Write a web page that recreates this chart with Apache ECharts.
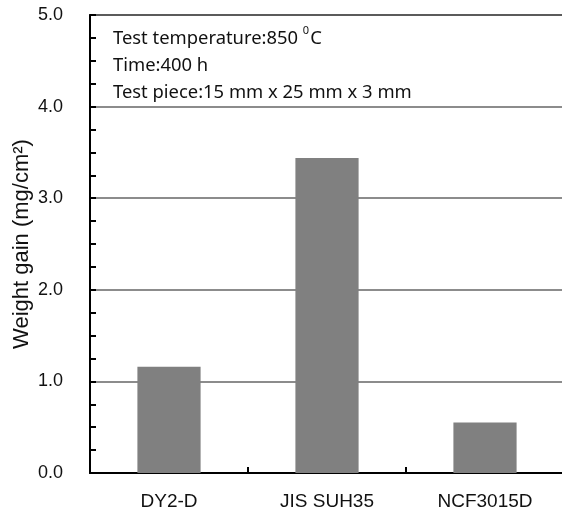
<!DOCTYPE html>
<html>
<head>
<meta charset="utf-8">
<script src="https://cdn.jsdelivr.net/npm/echarts@6/dist/echarts.min.js"></script>
<style>
  html, body { margin: 0; padding: 0; background: #fff; }
  #chart { width: 562px; height: 512px; }
</style>
</head>
<body>
<div id="chart"></div>
<script>
// Oxidation weight gain after 400 h at 850 °C
const categories = ['DY2-D', 'JIS SUH35', 'NCF3015D'];
const weightGain = [1.16, 3.44, 0.55];
const yTicks = [0, 1, 2, 3, 4, 5];

const chart = echarts.init(document.getElementById('chart'));
const font = 'Liberation Sans, Arial, sans-serif';
const noteFont = 'Noto Sans, sans-serif';

chart.setOption({
  animation: false,
  backgroundColor: '#fff',
  title: {
    left: 108,
    top: 20,
    itemGap: 0,
    text: '{t|Test temperature:850 }{s|0}{t|C}\n{t|Time:400 h}\n{t|Test piece:15 mm x 25 mm x 3 mm}',
    textStyle: {
      fontWeight: 'normal',
      lineHeight: 27,
      rich: {
        t: { fontSize: 18.4, fontFamily: noteFont, fontWeight: 'normal', color: '#111', lineHeight: 27 },
        s: { fontSize: 11, fontFamily: noteFont, fontWeight: 'normal', color: '#111', verticalAlign: 'top', lineHeight: 27, padding: [0, 1, 8, 0] }
      }
    }
  },
  grid: {
    left: 90, right: -2, top: 15, bottom: 39,
    outerBoundsMode: 'none',
    containLabel: false,
    show: true, borderColor: '#000', borderWidth: 1.5, backgroundColor: 'transparent'
  },
  xAxis: {
    type: 'category',
    data: categories,
    axisLine: { lineStyle: { color: '#000', width: 2 } },
    axisTick: { show: true, inside: true, length: 6, lineStyle: { color: '#000', width: 2 } },
    axisLabel: { color: '#111', fontSize: 19, fontFamily: font, margin: 19 }
  },
  yAxis: {
    type: 'value',
    min: yTicks[0],
    max: yTicks[yTicks.length - 1],
    interval: 1,
    name: 'Weight gain (mg/cm²)',
    nameLocation: 'middle',
    nameGap: 57,
    nameMoveOverlap: false,
    nameTextStyle: { color: '#111', fontSize: 22, fontFamily: font },
    axisLine: { show: true, lineStyle: { color: '#000', width: 2 } },
    axisTick: { show: true, inside: true, length: 6, lineStyle: { color: '#000', width: 2 } },
    minorTick: { show: true, splitNumber: 4, length: 6, lineStyle: { color: '#000', width: 2 } },
    axisLabel: {
      color: '#111', fontSize: 18, fontFamily: font, margin: 27,
      formatter: v => v.toFixed(1)
    },
    splitLine: { show: true, lineStyle: { color: '#666', width: 1.5 } }
  },
  series: [{
    type: 'bar',
    data: weightGain,
    barWidth: '40%',
    itemStyle: { color: '#808080' }
  }]
});
</script>
</body>
</html>
